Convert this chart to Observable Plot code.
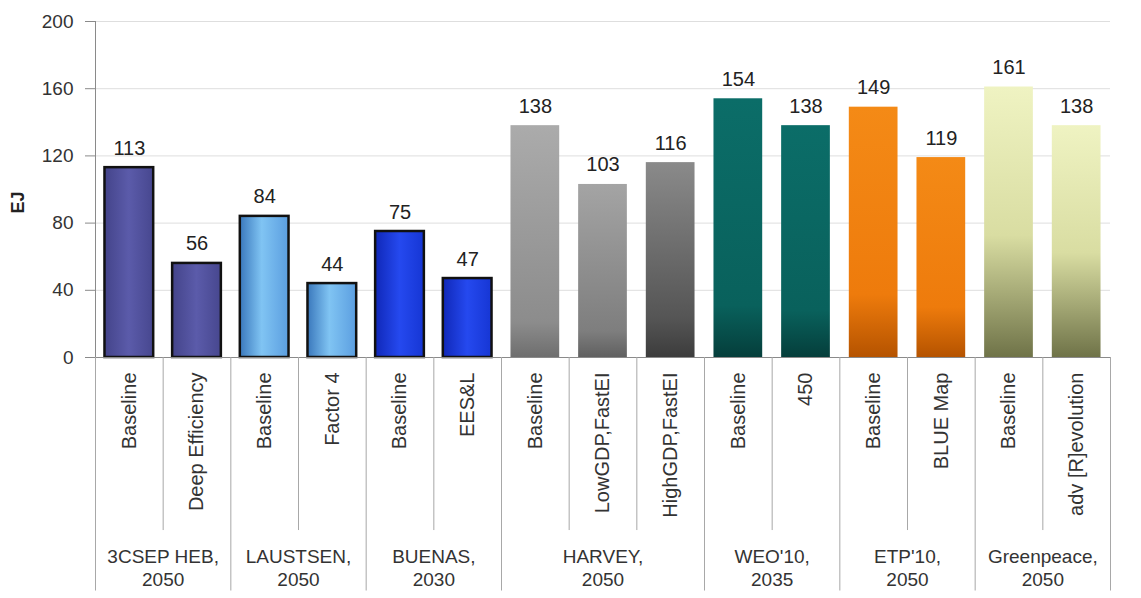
<!DOCTYPE html>
<html>
<head>
<meta charset="utf-8">
<script src="https://cdn.jsdelivr.net/npm/d3@7"></script>
<script src="https://cdn.jsdelivr.net/npm/@observablehq/plot@0.6"></script>
<style>
  html, body { margin: 0; padding: 0; background: #fff; }
</style>
</head>
<body>
<div id="chart"></div>
<script>
// ---- data ----
const groups = ["3CSEP HEB,\n2050", "LAUSTSEN,\n2050", "BUENAS,\n2030", "HARVEY,\n2050", "WEO'10,\n2035", "ETP'10,\n2050", "Greenpeace,\n2050"];
const groupSizes = [2, 2, 2, 3, 2, 2, 2];
const scenarios = ["Baseline", "Deep Efficiency", "Baseline", "Factor 4", "Baseline", "EES&L",
  "Baseline", "LowGDP,FastEI", "HighGDP,FastEI", "Baseline", "450", "Baseline", "BLUE Map",
  "Baseline", "adv [R]evolution"];
const values = [113, 56, 84, 44, 75, 47, 138, 103, 116, 154, 138, 149, 119, 161, 138];
const fills = ["url(#g0)", "url(#g0)", "url(#g1)", "url(#g1)", "url(#g2)", "url(#g2)",
  "url(#h0)", "url(#h1)", "url(#h2)", "url(#g4)", "url(#g4)", "url(#g5)", "url(#g5)", "url(#g6)", "url(#g6)"];
const outlined = [true, true, true, true, true, true, false, false, false, false, false, false, false, false, false];
const yTicks = [0, 40, 80, 120, 160, 200];

// ---- derived tables ----
const bars = values.map((v, i) => ({i, v, label: scenarios[i], fill: fills[i], stroke: outlined[i] ? "#111" : "none"}));
let acc = 0;
const groupRows = groups.map((g, k) => {
  const start = acc; acc += groupSizes[k];
  return {name: g, start, end: acc, mid: (start + acc) / 2};
});
const groupBounds = [0, ...groupRows.map(d => d.end)];
const innerBounds = [];
groupRows.forEach(g => { for (let b = g.start + 1; b < g.end; b++) innerBounds.push(b); });

const font = "Liberation Sans, Arial, sans-serif";

const svg = Plot.plot({
  width: 1141,
  height: 598,
  marginLeft: 95,
  marginRight: 31,
  marginTop: 21,
  marginBottom: 241,
  x: {domain: [0, values.length], axis: null},
  y: {domain: [0, 200], axis: null},
  color: {type: "identity"},
  style: {fontFamily: font, background: "#fff", overflow: "visible"},
  marks: [
    Plot.gridY(yTicks.slice(1), {stroke: "#dedede", strokeOpacity: 1}),
    Plot.axisY({ticks: yTicks, tickSize: 10, tickPadding: 12, fontSize: 19, stroke: "#8a8a8a", fill: "#333", label: null}),
    Plot.text(["EJ"], {frameAnchor: "left", dx: -77, dy: 24, rotate: -90, fontSize: 18, fontWeight: "bold", fill: "#222"}),
    // bars
    Plot.rectY(bars, {x1: d => d.i + 0.14, x2: d => d.i + 0.86, y1: 0, y2: "v", fill: "fill", stroke: "stroke", strokeWidth: 2.5}),
    // value labels
    Plot.text(bars, {x: d => d.i + 0.5, y: "v", text: d => String(d.v), lineAnchor: "bottom", dy: -13, fontSize: 20, fill: "#222"}),
    // axis lines
    Plot.ruleX([0], {y1: 0, y2: 200, stroke: "#8a8a8a"}),
    Plot.ruleY([0], {stroke: "#8a8a8a"}),
    // category separators below the axis
    Plot.ruleX(innerBounds, {y1: 0, y2: -103, stroke: "#a8a8a8"}),
    Plot.ruleX(groupBounds, {y1: 0, y2: -139, stroke: "#a8a8a8"}),
    // scenario labels (rotated)
    Plot.text(bars, {x: d => d.i + 0.5, y: 0, text: "label", rotate: -90, textAnchor: "end", lineAnchor: "middle", dy: 15, fontSize: 20, fill: "#333"}),
    // group labels
    Plot.text(groupRows, {x: "mid", y: 0, text: "name", lineAnchor: "middle", dy: 210, lineHeight: 1.2, fontSize: 19, fill: "#333"})
  ]
});

svg.insertAdjacentHTML("afterbegin", `
<defs>
  <linearGradient id="g0" x1="0" x2="1" y1="0" y2="0">
    <stop offset="0" stop-color="#44448a"/><stop offset="0.5" stop-color="#5b5baa"/><stop offset="1" stop-color="#47478f"/>
  </linearGradient>
  <linearGradient id="g1" x1="0" x2="1" y1="0" y2="0">
    <stop offset="0" stop-color="#3a78bc"/><stop offset="0.45" stop-color="#80c4f3"/><stop offset="1" stop-color="#5b9ee0"/>
  </linearGradient>
  <linearGradient id="g2" x1="0" x2="1" y1="0" y2="0">
    <stop offset="0" stop-color="#1028b8"/><stop offset="0.5" stop-color="#2549ef"/><stop offset="1" stop-color="#1636d4"/>
  </linearGradient>
  <linearGradient id="h0" x1="0" x2="0" y1="0" y2="1">
    <stop offset="0" stop-color="#ababab"/><stop offset="0.85" stop-color="#8c8c8c"/><stop offset="1" stop-color="#6e6e6e"/>
  </linearGradient>
  <linearGradient id="h1" x1="0" x2="0" y1="0" y2="1">
    <stop offset="0" stop-color="#a4a4a4"/><stop offset="0.85" stop-color="#7e7e7e"/><stop offset="1" stop-color="#606060"/>
  </linearGradient>
  <linearGradient id="h2" x1="0" x2="0" y1="0" y2="1">
    <stop offset="0" stop-color="#8a8a8a"/><stop offset="0.8" stop-color="#555555"/><stop offset="1" stop-color="#3c3c3c"/>
  </linearGradient>
  <linearGradient id="g4" x1="0" x2="0" y1="0" y2="1">
    <stop offset="0" stop-color="#0b6d68"/><stop offset="0.8" stop-color="#09615c"/><stop offset="1" stop-color="#053e3b"/>
  </linearGradient>
  <linearGradient id="g5" x1="0" x2="0" y1="0" y2="1">
    <stop offset="0" stop-color="#f48a16"/><stop offset="0.75" stop-color="#ee7b0c"/><stop offset="1" stop-color="#b55300"/>
  </linearGradient>
  <linearGradient id="g6" x1="0" x2="0" y1="0" y2="1">
    <stop offset="0" stop-color="#eff3c2"/><stop offset="0.55" stop-color="#d9dda2"/><stop offset="1" stop-color="#6f7348"/>
  </linearGradient>
</defs>`);

document.getElementById("chart").appendChild(svg);
</script>
</body>
</html>
